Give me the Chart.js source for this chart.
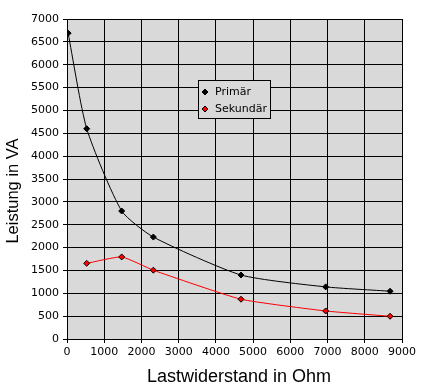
<!DOCTYPE html>
<html>
<head>
<meta charset="utf-8">
<script src="https://cdn.jsdelivr.net/npm/chart.js@4/dist/chart.umd.min.js"></script>
<style>
  html, body { margin: 0; padding: 0; background: #fff; }
  #wrap { width: 423px; height: 390px; }
</style>
</head>
<body>
<div id="wrap"><canvas id="myChart" width="423" height="390"></canvas></div>
<script>
// Lastwiderstand (Ohm) und Leistung (VA)
const ohmPrimaer = [30, 530, 1470, 2320, 4675, 6950, 8680];
const vaPrimaer = [6690, 4600, 2800, 2230, 1400, 1140, 1045];
const ohmSekundaer = [530, 1470, 2320, 4675, 6950, 8680];
const vaSekundaer = [1655, 1795, 1505, 870, 613, 497];
const seriesNames = ['Primär', 'Sekundär'];
const xTitle = 'Lastwiderstand in Ohm';
const yTitle = 'Leistung in VA';

const tickFont = { family: 'DejaVu Sans', size: 11 };

function toPoints(xs, ys) {
  return xs.map((x, i) => ({ x: x, y: ys[i] }));
}

// grey plot area, legend box and axis titles
const excelLook = {
  id: 'excelLook',
  beforeDraw(chart) {
    const a = chart.chartArea;
    const c = chart.ctx;
    c.save();
    c.fillStyle = '#d9d9d9';
    c.fillRect(a.left, a.top, a.right - a.left, a.bottom - a.top);
    c.restore();
  },
  afterDraw(chart) {
    const c = chart.ctx;
    c.save();
    // legend
    c.fillStyle = '#d9d9d9';
    c.fillRect(198.5, 80.5, 72, 38);
    c.strokeStyle = '#000';
    c.lineWidth = 1;
    c.strokeRect(198.5, 80.5, 72, 38);
    chart.data.datasets.forEach((ds, i) => {
      const y = 92 + i * 17;
      c.beginPath();
      c.moveTo(205, y - 3);
      c.lineTo(208, y);
      c.lineTo(205, y + 3);
      c.lineTo(202, y);
      c.closePath();
      c.fillStyle = ds.pointBackgroundColor;
      c.fill();
      c.strokeStyle = ds.pointBorderColor;
      c.stroke();
      c.fillStyle = '#000';
      c.font = '11px "DejaVu Sans"';
      c.textBaseline = 'middle';
      c.textAlign = 'left';
      c.fillText(ds.label, 215, y);
    });
    // axis titles
    c.fillStyle = '#000';
    c.font = '18px "Liberation Sans"';
    c.textAlign = 'center';
    c.textBaseline = 'alphabetic';
    c.fillText(xTitle, 239, 382);
    c.translate(18, 191);
    c.rotate(-Math.PI / 2);
    c.font = '16.5px "Liberation Sans"';
    c.fillText(yTitle, 0, 0);
    c.restore();
  }
};

const ctx = document.getElementById('myChart');

new Chart(ctx, {
  type: 'scatter',
  data: {
    datasets: [
      {
        label: seriesNames[0],
        data: toPoints(ohmPrimaer, vaPrimaer),
        showLine: true,
        borderColor: '#000',
        borderWidth: 1,
        tension: 0.2,
        pointStyle: 'rectRot',
        pointRadius: 3,
        pointBackgroundColor: '#000',
        pointBorderColor: '#000',
        pointBorderWidth: 1
      },
      {
        label: seriesNames[1],
        data: toPoints(ohmSekundaer, vaSekundaer),
        showLine: true,
        borderColor: '#ff0000',
        borderWidth: 1,
        tension: 0.15,
        pointStyle: 'rectRot',
        pointRadius: 3,
        pointBackgroundColor: '#ff0000',
        pointBorderColor: '#000',
        pointBorderWidth: 1
      }
    ]
  },
  options: {
    responsive: false,
    animation: false,
    layout: { padding: { left: 0, top: 19, right: 21, bottom: 0 } },
    plugins: {
      legend: { display: false },
      tooltip: { enabled: false }
    },
    scales: {
      x: {
        type: 'linear',
        min: 0,
        max: 9000,
        afterFit(scale) { scale.height = 51; },
        ticks: { stepSize: 1000, color: '#000', font: tickFont, padding: 3, maxRotation: 0,
          callback: (v) => String(v) },
        grid: { color: '#000', tickLength: 4, lineWidth: 1 },
        border: { color: '#000' }
      },
      y: {
        type: 'linear',
        min: 0,
        max: 7000,
        afterFit(scale) { scale.width = 67; },
        ticks: { stepSize: 500, color: '#000', font: tickFont, padding: 4,
          callback: (v) => String(v) },
        grid: { color: '#000', tickLength: 4, lineWidth: 1 },
        border: { color: '#000' }
      }
    }
  },
  plugins: [excelLook]
});
</script>
</body>
</html>
